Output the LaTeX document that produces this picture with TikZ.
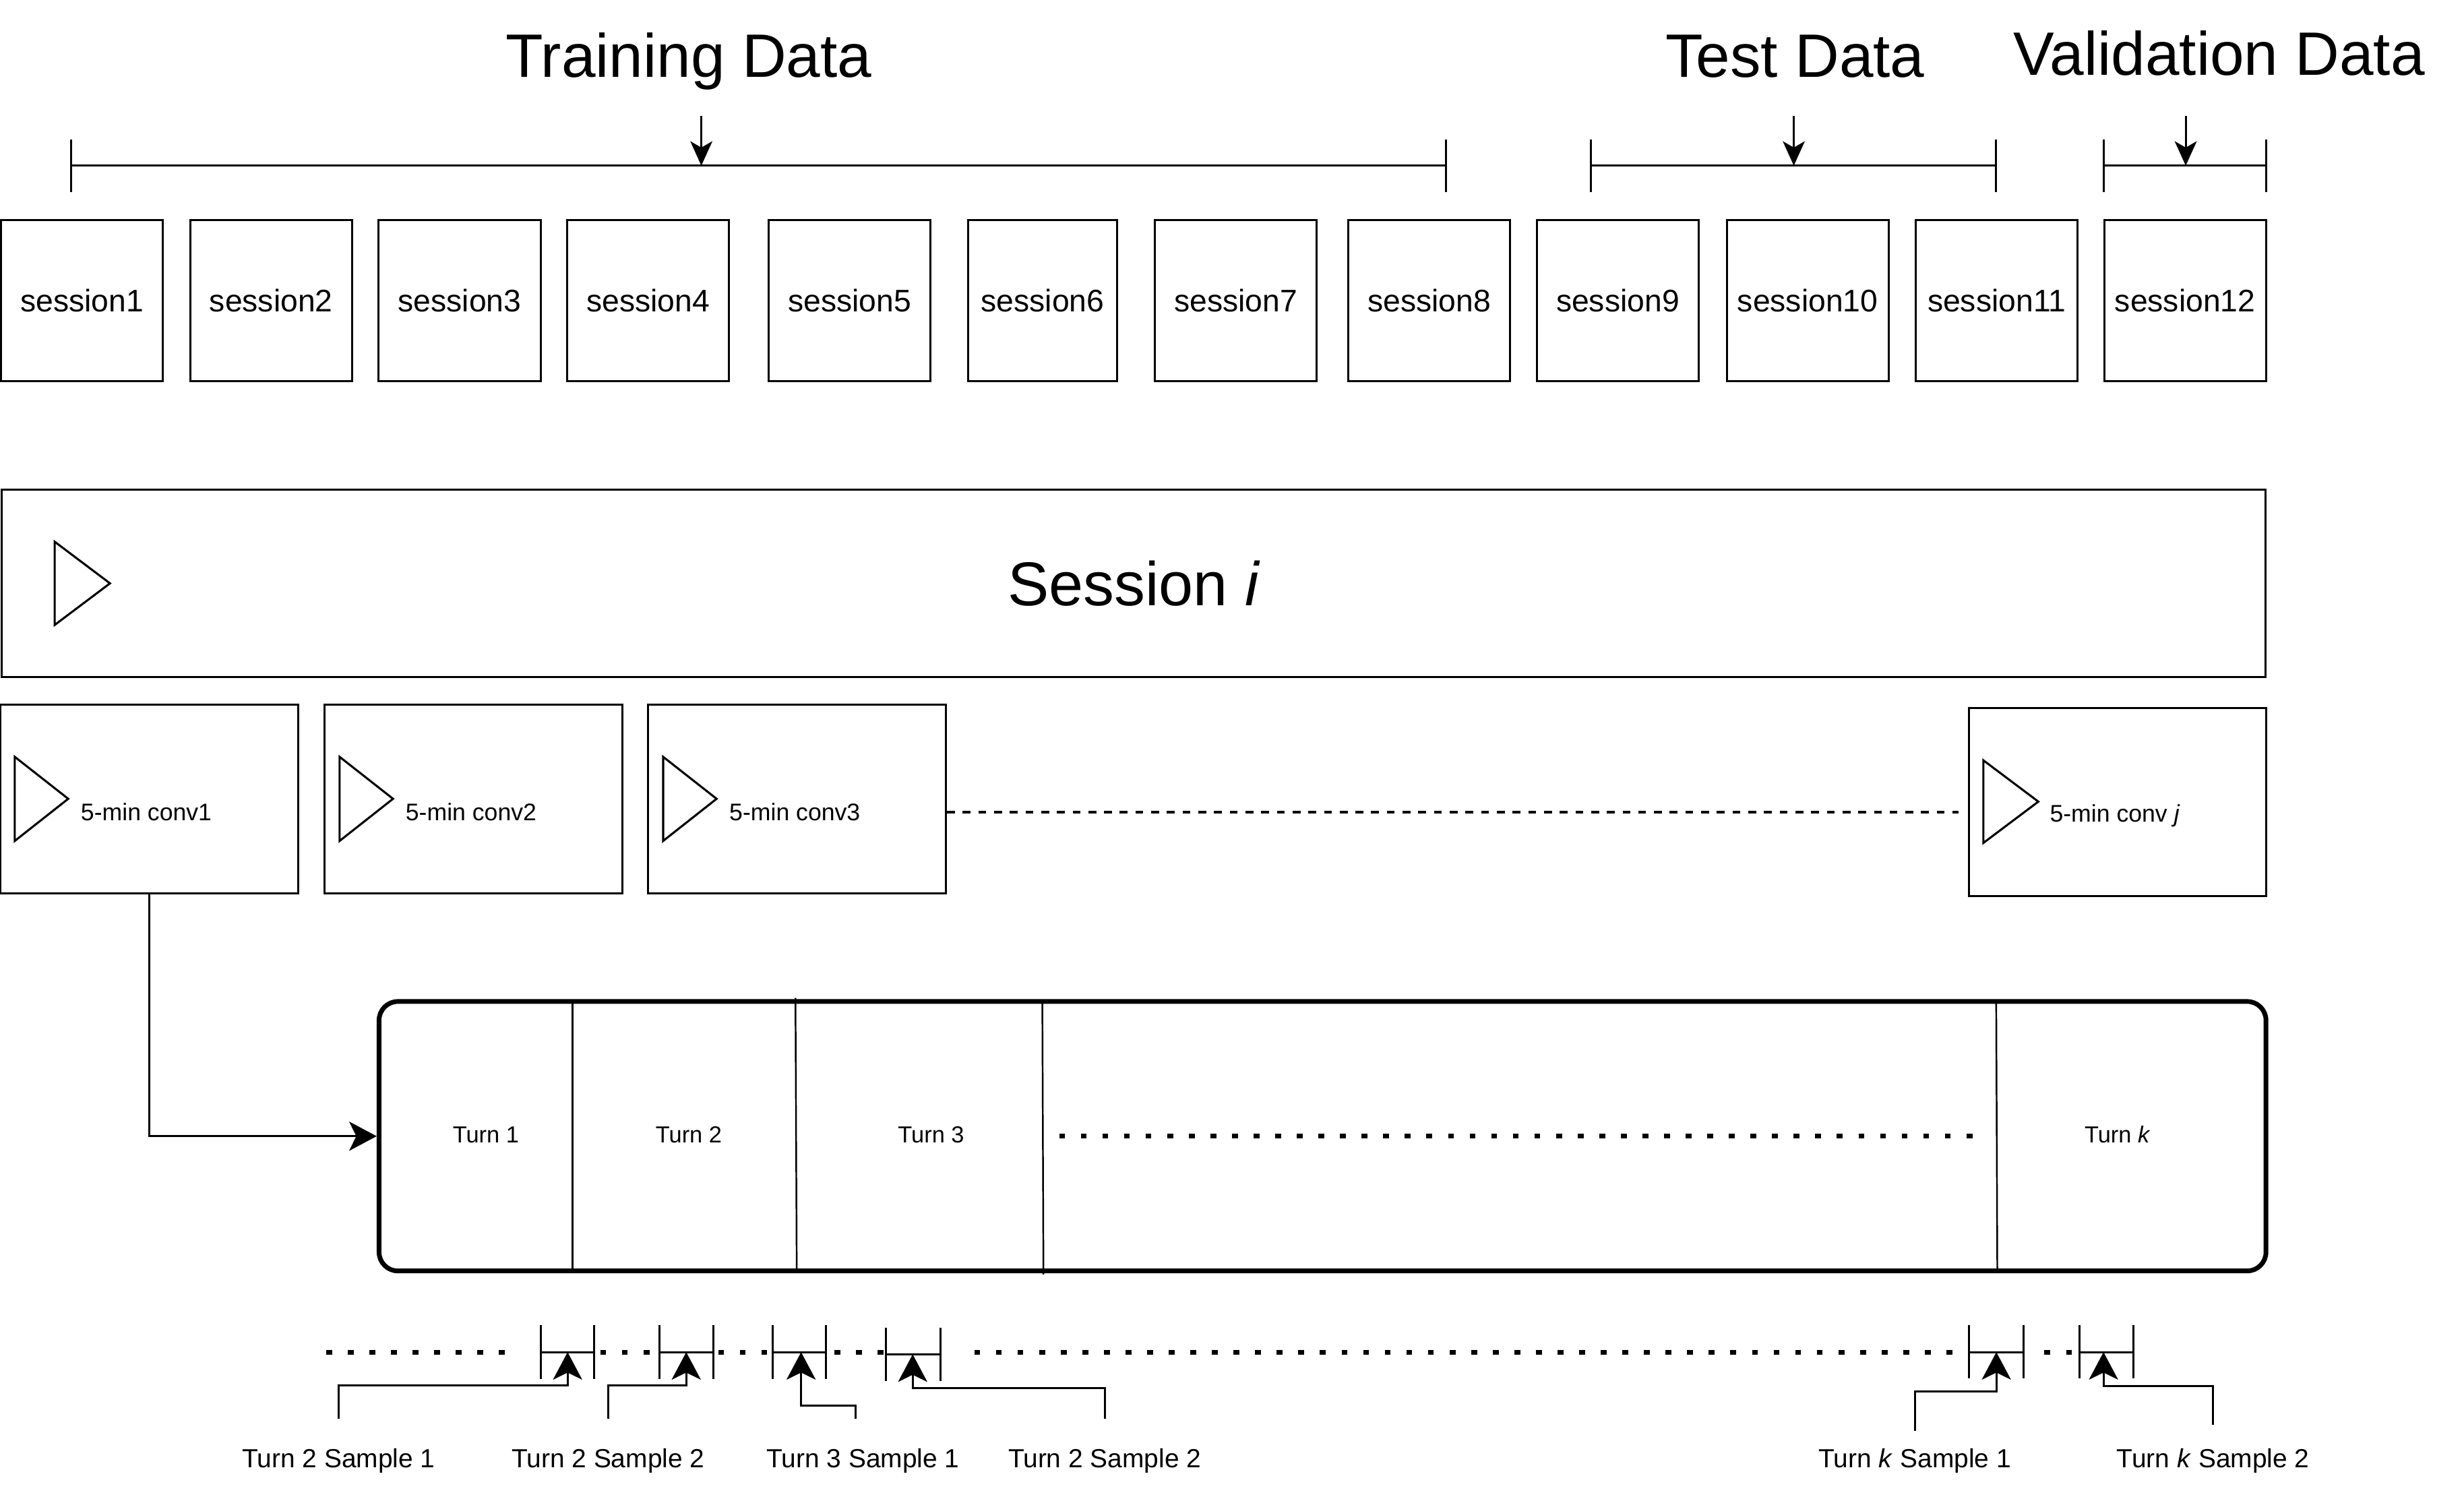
\documentclass[tikz,border=0pt]{standalone}
\usepackage{fontspec}
\setmainfont{Liberation Sans}
\usepackage{tikz}
\usetikzlibrary{positioning}
\usetikzlibrary{arrows.meta}

\begin{document}
\begin{tikzpicture}[x=0.02cm, y=-0.02cm,
  box/.style={draw, line width=0.75pt, inner sep=0pt},
  sessbox/.style={box, minimum width=2.06cm, minimum height=2.054cm, font=\fontsize{11.3}{13}\selectfont},
  convbox/.style={box, minimum width=3.79cm, minimum height=2.4cm},
  tri/.style={line width=0.75pt},
  bar/.style={line width=0.75pt},
  divl/.style={line width=0.6pt},
  darr/.style={line width=0.7pt, -{Stealth[length=0.31cm, width=0.28cm, inset=0.08cm]}},
  sarr/.style={line width=0.75pt, -{Stealth[length=0.35cm, width=0.37cm, inset=0.09cm]}},
  dots/.style={line width=1.7pt, dash pattern=on 0.075cm off 0.2cm},
  dashl/.style={line width=0.8pt, dash pattern=on 0.1cm off 0.1cm},
  title/.style={font=\fontsize{22.2}{26}\selectfont, anchor=base, inner sep=0pt},
  convlab/.style={font=\fontsize{8.7}{10}\selectfont, anchor=base west, inner sep=0pt},
  turnlab/.style={font=\fontsize{8.4}{10}\selectfont, inner sep=0pt},
  samplab/.style={font=\fontsize{9.5}{11}\selectfont, anchor=base, inner sep=0pt}
]

\useasboundingbox (0,0) rectangle (1568,956);

% data split
\node[title] (trainlab) at (438.3,49.2) {Training Data};
\node[title] (testlab) at (1142.3,49.2) {Test Data};
\node[title] (vallab) at (1412.2,47.9) {Validation Data};

\draw[bar] (45.2,88.6) -- (45.2,122.3) (920,88.6) -- (920,122.3) (45.2,105.4) -- (920,105.4);
\draw[bar] (1012.4,88.6) -- (1012.4,122.3) (1270.3,88.6) -- (1270.3,122.3) (1012.4,105.4) -- (1270.3,105.4);
\draw[bar] (1338.9,88.6) -- (1338.9,122.3) (1442,88.6) -- (1442,122.3) (1338.9,105.4) -- (1442,105.4);

\coordinate (trtop) at (446.3,73.9);
\coordinate (trbar) at (446.3,105.4);
\coordinate (tetop) at (1141.5,73.9);
\coordinate (tebar) at (1141.5,105.4);
\coordinate (vatop) at (1390.9,73.9);
\coordinate (vabar) at (1390.9,105.4);
\draw[darr] (trtop) -- (trbar);
\draw[darr] (tetop) -- (tebar);
\draw[darr] (vatop) -- (vabar);

% sessions
\node[sessbox] (s1) at (52.25,191.25) {session1};
\node[sessbox] (s2) at (172.5,191.25) {session2};
\node[sessbox] (s3) at (292.5,191.25) {session3};
\node[sessbox] (s4) at (412.5,191.25) {session4};
\node[sessbox] (s5) at (540.75,191.25) {session5};
\node[sessbox, minimum width=1.9cm] (s6) at (663.5,191.25) {session6};
\node[sessbox] (s7) at (786.5,191.25) {session7};
\node[sessbox] (s8) at (909.5,191.25) {session8};
\node[sessbox] (s9) at (1029.5,191.25) {session9};
\node[sessbox] (s10) at (1150.3,191.25) {session10};
\node[sessbox] (s11) at (1270.6,191.25) {session11};
\node[sessbox] (s12) at (1390.5,191.25) {session12};

% session i
\node[box, minimum width=28.82cm, minimum height=2.39cm, font=\fontsize{22.4}{26}\selectfont] (sessi) at (721.5,371.2) {Session \textit{i}};
\draw[tri] (sessi.west) ++(34.3,-26.5) -- ++(0,53) -- ++(35.2,-26.5) -- cycle;

% 5-min conversations
\node[convbox] (c1) at (95,508.3) {};
\node[convbox] (c2) at (301.2,508.3) {};
\node[convbox] (c3) at (507.2,508.3) {};
\node[convbox] (cj) at (1347.5,510.4) {};

\draw[tri] (c1.west) ++(9.8,-26.7) -- ++(0,53.5) -- ++(34,-26.8) -- cycle;
\draw[tri] (c2.west) ++(10.3,-26.7) -- ++(0,53.5) -- ++(34,-26.8) -- cycle;
\draw[tri] (c3.west) ++(10.2,-26.7) -- ++(0,53.5) -- ++(34,-26.8) -- cycle;
\draw[tri] (cj.west) ++(10,-26.6) -- ++(0,52.6) -- ++(35,-26.3) -- cycle;

\node[convlab] (c1lab) at ([xshift=1.03cm, yshift=-0.28cm]c1.west) {5-min conv1};
\node[convlab] (c2lab) at ([xshift=1.04cm, yshift=-0.28cm]c2.west) {5-min conv2};
\node[convlab] (c3lab) at ([xshift=1.04cm, yshift=-0.28cm]c3.west) {5-min conv3};
\node[convlab] (cjlab) at ([xshift=1.04cm, yshift=-0.25cm]cj.west) {5-min conv \textit{j}};

\draw[dashl, shorten >=0.12cm] (c3.east |- c3lab) -- (cj.west |- c3lab);

% turns
\node[draw, line width=1.7pt, rounded corners=0.24cm, minimum width=24.02cm, minimum height=3.43cm] (turns) at (841.6,723) {};

\draw[divl] (364.3,637.3) -- (364.3,808.8);
\draw[divl] (506.2,635) -- (507,808.8);
\draw[divl] (663.3,637.3) -- (664,811);
\draw[divl] (1270.3,637.3) -- (1271,808.8);

\node[turnlab] (t1) at (309.2,722) {Turn 1};
\node[turnlab] (t2) at (438.3,722) {Turn 2};
\node[turnlab] (t3) at (592.5,722) {Turn 3};
\node[turnlab] (tk) at (1347.5,722) {Turn \textit{k}};

\draw[dots] (674,723) -- (1257,723);

\draw[sarr] (c1.south) |- (turns.west);

% samples
\draw[dots] (207.6,860.4) -- (322,860.4);
\draw[dots] (382,860.4) -- (417,860.4);
\draw[dots] (457,860.4) -- (491,860.4);
\draw[dots] (531,860.4) -- (563,860.4);
\draw[dots] (620,860.4) -- (1253,860.4);
\draw[dots] (1301,860.4) -- (1322,860.4);

\draw[bar] (344,843.2) -- (344,877.4) (378,843.2) -- (378,877.4) (344,860.4) -- (378,860.4);
\draw[bar] (419.5,843.2) -- (419.5,877.4) (454,843.2) -- (454,877.4) (419.5,860.4) -- (454,860.4);
\draw[bar] (491.7,843.2) -- (491.7,877.4) (525.4,843.2) -- (525.4,877.4) (491.7,860.4) -- (525.4,860.4);
\draw[bar] (563.9,845) -- (563.9,878.8) (598.4,845) -- (598.4,878.8) (563.9,861.8) -- (598.4,861.8);
\draw[bar] (1252.9,843) -- (1252.9,877) (1287.6,843) -- (1287.6,877) (1252.9,860.4) -- (1287.6,860.4);
\draw[bar] (1323.4,843) -- (1323.4,877) (1357.7,843) -- (1357.7,877) (1323.4,860.4) -- (1357.7,860.4);

\coordinate (m1) at (361.2,860.4);
\coordinate (m2) at (436.7,860.4);
\coordinate (m3) at (509.8,860.4);
\coordinate (m4) at (580.8,861.8);
\coordinate (mk1) at (1270.4,860.4);
\coordinate (mk2) at (1338.6,860.4);

\node[samplab] (l1) at (215.5,934) {Turn 2 Sample 1};
\node[samplab] (l2) at (387,934) {Turn 2 Sample 2};
\node[samplab] (l3) at (549.2,934) {Turn 3 Sample 1};
\node[samplab] (l4) at (703,934) {Turn 2 Sample 2};
\node[samplab] (lk1) at (1218.5,934) {Turn \textit{k} Sample 1};
\node[samplab] (lk2) at (1408.3,934) {Turn \textit{k} Sample 2};

\coordinate (a1) at (215.5,902.8);
\coordinate (a2) at (387,902.8);
\coordinate (a3) at (544.6,902.8);
\coordinate (a4) at (703,902.8);
\coordinate (ak1) at (1218.5,910.7);
\coordinate (ak2) at (1408.3,906.5);

\draw[sarr] (a1) -- ++(0,-21.3) -| (m1);
\draw[sarr] (a2) -- ++(0,-21.3) -| (m2);
\draw[sarr] (a3) -- ++(0,-8.3) -| (m3);
\draw[sarr] (a4) -- ++(0,-19.6) -| (m4);
\draw[sarr] (ak1) -- ++(0,-25.2) -| (mk1);
\draw[sarr] (ak2) -- ++(0,-24.5) -| (mk2);

\end{tikzpicture}
\end{document}
